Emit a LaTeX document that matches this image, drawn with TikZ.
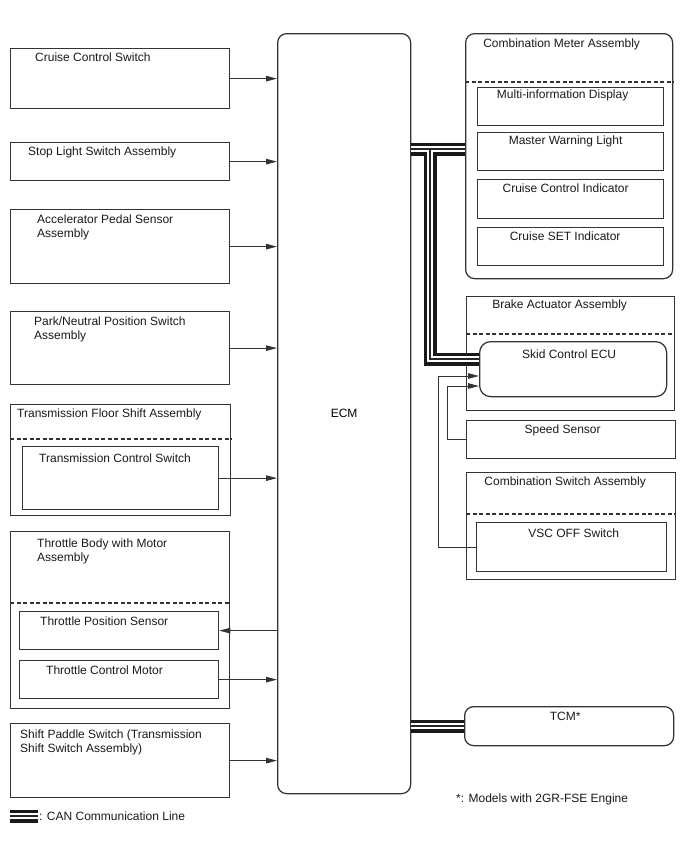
\documentclass[tikz,border=0pt]{standalone}
\usepackage{fontspec}
\setmainfont{Liberation Sans}
\usetikzlibrary{positioning,arrows.meta}

\begin{document}
\begin{tikzpicture}[x=1pt, y=-1pt, node distance=5pt,
    every node/.style={font=\fontsize{12}{14}\selectfont},
    box/.style={draw=black!80, line width=1.25pt, anchor=north west, inner sep=0pt},
    rbox/.style={box, rounded corners=9pt},
    txt/.style={inner sep=0pt, align=left, text=black!90},
    sep/.style={draw=black!80, line width=1.1pt, dash pattern=on 4pt off 2.5pt},
    sig/.style={draw=black!80, line width=1pt, -{Triangle[length=11pt,width=5.5pt]}},
    can/.style={line width=13pt, draw=black!90, line join=miter,
      postaction={draw=white, line width=6.6pt, line join=miter},
      postaction={draw=black!85, line width=1.3pt, line join=miter}}]
    \useasboundingbox (0,0) rectangle (688,852);

    % left column
    \node[box, minimum width=219pt, minimum height=60pt] (ccs) at (10,48) {};
    \node[box, minimum width=219pt, minimum height=38pt] (stop) at (10,142) {};
    \node[box, minimum width=219pt, minimum height=74pt] (accel) at (10,209) {};
    \node[box, minimum width=219pt, minimum height=73pt] (park) at (10,311) {};
    \node[box, minimum width=220pt, minimum height=111pt] (tfsa) at (10,404) {};
    \node[box, minimum width=196pt, minimum height=63pt] (tcs) at (22,446) {};
    \node[box, minimum width=219pt, minimum height=177pt] (tbody) at (10,531) {};
    \node[box, minimum width=199pt, minimum height=38pt] (tps) at (19,611) {};
    \node[box, minimum width=199pt, minimum height=38pt] (tmot) at (19,660) {};
    \node[box, minimum width=219pt, minimum height=74pt] (paddle) at (10,723) {};

    \node[txt, below right=4.3pt and 25pt of ccs.north west] (ccsT) {Cruise Control Switch};
    \node[txt, below right=4.3pt and 18pt of stop.north west] (stopT) {Stop Light Switch Assembly};
    \node[txt, below right=5.3pt and 27pt of accel.north west] (accelT) {Accelerator Pedal Sensor\\Assembly};
    \node[txt, below right=5.3pt and 24pt of park.north west] (parkT) {Park/Neutral Position Switch\\Assembly};
    \node[txt, below right=4.3pt and 7pt of tfsa.north west] (tfsaT) {Transmission Floor Shift Assembly};
    \node[txt, below right=7.3pt and 17pt of tcs.north west] (tcsT) {Transmission Control Switch};
    \node[txt, below right=7.3pt and 27pt of tbody.north west] (tbodyT) {Throttle Body with Motor\\Assembly};
    \node[txt, below right=5.3pt and 21pt of tps.north west] (tpsT) {Throttle Position Sensor};
    \node[txt, below right=5.3pt and 27pt of tmot.north west] (tmotT) {Throttle Control Motor};
    \node[txt, below right=6.3pt and 10pt of paddle.north west] (paddleT) {Shift Paddle Switch (Transmission\\Shift Switch Assembly)};

    \coordinate (tfsaDash) at (0,439);
    \coordinate (tbodyDash) at (0,603);
    \draw[sep] (tfsa.west |- tfsaDash) -- (tfsa.east |- tfsaDash);
    \draw[sep] (tbody.west |- tbodyDash) -- (tbody.east |- tbodyDash);

    % ECM
    \node[rbox, minimum width=133pt, minimum height=760pt] (ecm) at (277,33) {ECM};

    % right column
    \node[rbox, minimum width=207pt, minimum height=245pt] (meter) at (465,33) {};
    \node[box, minimum width=186pt, minimum height=38pt] (mid) at (477,87) {};
    \node[box, minimum width=186pt, minimum height=38pt] (mwl) at (477,132) {};
    \node[box, minimum width=186pt, minimum height=39pt] (cci) at (477,179) {};
    \node[box, minimum width=186pt, minimum height=38pt] (cset) at (477,227) {};
    \node[box, minimum width=208pt, minimum height=114pt] (brake) at (466,296) {};
    \node[rbox, rounded corners=11pt, minimum width=187pt, minimum height=55pt] (skid) at (479,341) {};
    \node[box, minimum width=209pt, minimum height=38pt] (speed) at (466,420) {};
    \node[box, minimum width=209pt, minimum height=107pt] (cswa) at (466,472) {};
    \node[box, minimum width=190pt, minimum height=49pt] (vsc) at (476,522) {};
    \node[rbox, minimum width=209pt, minimum height=39pt] (tcm) at (464,706) {};

    \node[txt, below=5.3pt of meter.north, xshift=-7.5pt] (meterT) {Combination Meter Assembly};
    \node[txt, below=2.3pt of mid.north, xshift=-8pt] (midT) {Multi-information Display};
    \node[txt, below=3.3pt of mwl.north, xshift=-5pt] (mwlT) {Master Warning Light};
    \node[txt, below=4.3pt of cci.north, xshift=-5pt] (cciT) {Cruise Control Indicator};
    \node[txt, below=4.3pt of cset.north, xshift=-5.5pt] (csetT) {Cruise SET Indicator};
    \node[txt, below=3.3pt of brake.north, xshift=-11pt] (brakeT) {Brake Actuator Assembly};
    \node[txt, below=8.3pt of skid.north, xshift=-4pt] (skidT) {Skid Control ECU};
    \node[txt, below=4.3pt of speed.north, xshift=-8.5pt] (speedT) {Speed Sensor};
    \node[txt, below=4.3pt of cswa.north, xshift=-6pt] (cswaT) {Combination Switch Assembly};
    \node[txt, below=6.3pt of vsc.north, xshift=2pt] (vscT) {VSC OFF Switch};
    \node[txt, below=6.3pt of tcm.north, xshift=-4pt] (tcmT) {TCM*};

    \coordinate (meterDash) at (0,82);
    \coordinate (brakeDash) at (0,334);
    \coordinate (cswaDash) at (0,514);
    \draw[sep] (meter.west |- meterDash) -- (meter.east |- meterDash);
    \draw[sep] (brake.west |- brakeDash) -- (brake.east |- brakeDash);
    \draw[sep] (cswa.west |- cswaDash) -- (cswa.east |- cswaDash);

    % signal lines
    \draw[sig] (ccs.east) -- (ccs.east -| ecm.west);
    \draw[sig] (stop.east) -- (stop.east -| ecm.west);
    \draw[sig] (accel.east) -- (accel.east -| ecm.west);
    \draw[sig] (park.east) -- (park.east -| ecm.west);
    \draw[sig] (tcs.east) -- (tcs.east -| ecm.west);
    \draw[sig] (tps.east -| ecm.west) -- (tps.east);
    \draw[sig] (tmot.east) -- (tmot.east -| ecm.west);
    \draw[sig] (paddle.east) -- (paddle.east -| ecm.west);

    \coordinate (inVSC) at (0,376);
    \coordinate (inSS) at (0,386);
    \draw[sig] (speed.west) -- ++(-19,0) |- (skid.west |- inSS);
    \draw[sig] (vsc.west) -- ++(-38,0) |- (skid.west |- inVSC);

    % CAN lines
    \coordinate (canM) at (0,149);
    \coordinate (canJ) at (430,149);
    \coordinate (canS) at (0,359);
    \draw[can] (ecm.east |- canM) -- (meter.west |- canM)
      (canJ) -- (canJ |- canS) -- (skid.west |- canS);
    \draw[can] (ecm.east |- tcm.west) -- (tcm.west);

    % legend and note
    \coordinate (legA) at (10,816);
    \coordinate (legB) at (38,816);
    \draw[can] (legA) -- (legB);
    \node[txt, right=1pt of legB] (legT) {: CAN Communication Line};
    \node[txt, anchor=base west] (note) at (456,802) {*: Models with 2GR-FSE Engine};
\end{tikzpicture}
\end{document}
